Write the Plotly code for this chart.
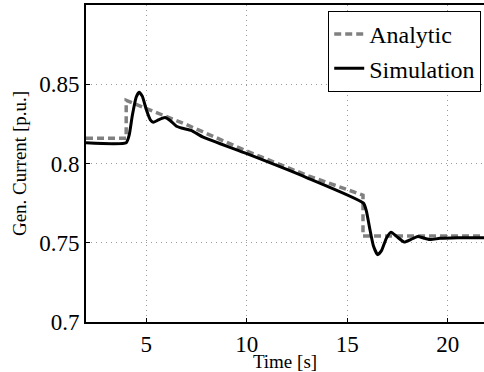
import plotly.graph_objects as go

# Analytic (gray dashed)
t_analytic = [2.0, 4.0, 4.0, 7.0, 10.0, 13.0, 15.78, 15.78, 21.8]
i_analytic = [0.816, 0.816, 0.8398, 0.8245, 0.8078, 0.7925, 0.780, 0.7542, 0.7542]

# Simulation (black solid)
t_sim = [2.0, 4.0, 4.15, 4.3, 4.5, 4.64, 4.8, 5.0, 5.2, 5.35, 5.6, 5.93, 6.2, 6.5,
         6.8, 7.25, 7.8, 10.0, 13.0, 15.8, 15.95, 16.1, 16.3, 16.51, 16.7, 16.95,
         17.18, 17.45, 17.84, 18.15, 18.5, 18.85, 19.16, 19.6, 20.5, 21.8]
i_sim = [0.8131, 0.8131, 0.818, 0.830, 0.842, 0.845, 0.8425, 0.834, 0.8275, 0.826,
         0.8275, 0.829, 0.827, 0.8235, 0.8222, 0.8208, 0.8168, 0.8062, 0.791, 0.775,
         0.770, 0.760, 0.748, 0.7425, 0.745, 0.753, 0.7567, 0.754, 0.7504, 0.752,
         0.754, 0.7528, 0.752, 0.7528, 0.7532, 0.7532]

x_ticks = [5, 10, 15, 20]
x_ticklabels = ["5", "10", "15", "20"]
y_ticks = [0.7, 0.75, 0.8, 0.85]
y_ticklabels = ["0.7", "0.75", "0.8", "0.85"]

serif = "Liberation Serif"

fig = go.Figure()
fig.add_trace(go.Scatter(x=t_analytic, y=i_analytic, mode="lines", name="Analytic",
                         line=dict(color="#808080", width=3.5, dash="7px,4px")))
fig.add_trace(go.Scatter(x=t_sim, y=i_sim, mode="lines", name="Simulation",
                         line=dict(color="black", width=3, shape="spline", smoothing=0.5)))

fig.update_layout(
    width=484, height=372,
    margin=dict(l=86, r=0, t=5, b=50),
    paper_bgcolor="white", plot_bgcolor="white",
    font=dict(family=serif, color="black", size=23),
    showlegend=True,
    legend=dict(x=0.993, y=0.981, xanchor="right", yanchor="top",
                bgcolor="white", bordercolor="black", borderwidth=1,
                font=dict(family=serif, size=24, color="black"),
                itemwidth=30, tracegroupgap=0),
)
fig.update_xaxes(
    range=[2, 21.8], tickvals=x_ticks, ticktext=x_ticklabels,
    showline=True, linecolor="black", linewidth=2, mirror=True,
    ticks="inside", ticklen=4, tickcolor="black",
    showgrid=True, gridcolor="#9a9a9a", gridwidth=1, griddash="1px,4px",
    zeroline=False,
    tickfont=dict(family=serif, size=23, color="black"),
    title=dict(text="Time [s]", font=dict(family=serif, size=19, color="black"), standoff=0),
)
fig.update_yaxes(
    range=[0.7, 0.9], tickvals=y_ticks, ticktext=y_ticklabels,
    showline=True, linecolor="black", linewidth=2, mirror=False,
    ticks="inside", ticklen=4, tickcolor="black",
    showgrid=True, gridcolor="#9a9a9a", gridwidth=1, griddash="1px,4px",
    zeroline=False,
    tickfont=dict(family=serif, size=23, color="black"),
    title=dict(text="Gen. Current [p.u.]", font=dict(family=serif, size=19, color="black"), standoff=8),
)

fig.write_html("out.html")
